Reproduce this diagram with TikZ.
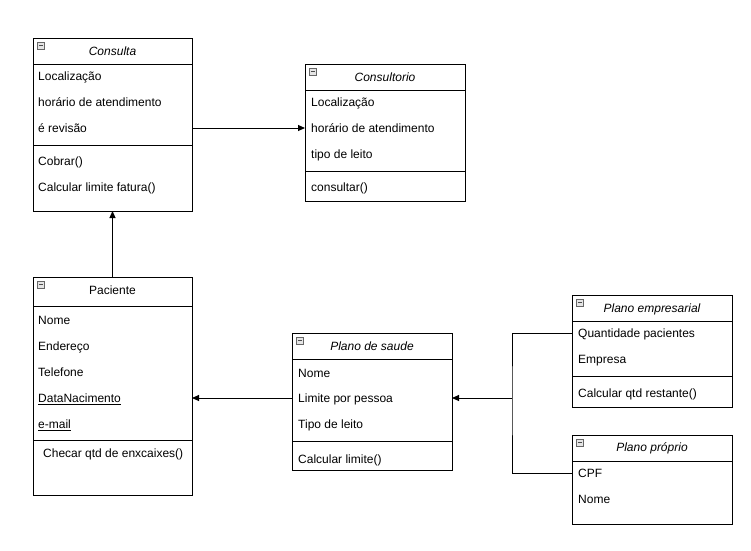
\documentclass[tikz,border=0pt]{standalone}
\usepackage{fontspec}
\setmainfont{Liberation Sans}
\usetikzlibrary{arrows.meta}
\begin{document}
\begin{tikzpicture}[x=1pt,y=-1pt,
  box/.style={draw, line width=1pt, anchor=north west, inner sep=0, outer sep=0},
  attr/.style={anchor=west, font=\fontsize{12}{14}\selectfont, inner sep=0,
    text height=12pt, text depth=3pt},
  title/.style={font=\fontsize{12}{14}\selectfont\itshape, inner sep=0,
    text height=12pt, text depth=3pt},
  plaintitle/.style={font=\fontsize{12}{14}\selectfont, inner sep=0,
    text height=12pt, text depth=3pt},
  sep/.style={line width=1pt},
  conn/.style={line width=1pt},
  arr/.style={conn, -{Triangle[length=7pt,width=6pt]}},
  toggle/.style={draw=gray!80!black, fill=gray!20, line width=0.6pt,
    minimum size=7pt, inner sep=0, anchor=north west,
    path picture={\draw[line width=0.7pt, black!70]
      ([xshift=1.6pt]path picture bounding box.west) --
      ([xshift=-1.6pt]path picture bounding box.east);}}
]
% canvas
\path[fill=white] (0,0) rectangle (751,550);

% ---- Consulta ----
\node[box, minimum width=159pt, minimum height=173pt] (consulta) at (33,38) {};
\node[toggle] (consultaT) at (37,42) {};
\node[title] (consultaN) at (112.5,51) {Consulta};
\draw[sep] (33,64) -- (192,64);
\node[attr] (c1) at (38,76) {Localização};
\node[attr] (c2) at (38,102) {horário de atendimento};
\node[attr] (c3) at (38,128) {é revisão};
\draw[sep] (33,145) -- (192,145);
\node[attr] (c4) at (38,161) {Cobrar()};
\node[attr] (c5) at (38,187) {Calcular limite fatura()};

% ---- Consultorio ----
\node[box, minimum width=160pt, minimum height=137pt] (consultorio) at (305,64) {};
\node[toggle] (consultorioT) at (309,68) {};
\node[title] (consultorioN) at (385,77) {Consultorio};
\draw[sep] (305,90) -- (465,90);
\node[attr] (o1) at (311,102) {Localização};
\node[attr] (o2) at (311,128) {horário de atendimento};
\node[attr] (o3) at (311,154) {tipo de leito};
\draw[sep] (305,171) -- (465,171);
\node[attr] (o4) at (311,187) {consultar()};

% ---- Paciente ----
\node[box, minimum width=159pt, minimum height=218pt] (paciente) at (33,277) {};
\node[toggle] (pacienteT) at (37,281) {};
\node[plaintitle] (pacienteN) at (112.5,290) {Paciente};
\draw[sep] (33,306) -- (192,306);
\node[attr] (p1) at (38,320) {Nome};
\node[attr] (p2) at (38,346) {Endereço};
\node[attr] (p3) at (38,372) {Telefone};
\node[attr] (p4) at (38,398) {\underline{DataNacimento}};
\node[attr] (p5) at (38,424) {\underline{e-mail}};
\draw[sep] (33,440) -- (192,440);
\node[attr] (p6) at (43,453) {Checar qtd de enxcaixes()};

% ---- Plano de saude ----
\node[box, minimum width=160pt, minimum height=137pt] (plano) at (292,333) {};
\node[toggle] (planoT) at (296,337) {};
\node[title] (planoN) at (372,346) {Plano de saude};
\draw[sep] (292,359) -- (452,359);
\node[attr] (s1) at (298,373) {Nome};
\node[attr] (s2) at (298,398) {Limite por pessoa};
\node[attr] (s3) at (298,424) {Tipo de leito};
\draw[sep] (292,441) -- (452,441);
\node[attr] (s4) at (298,459) {Calcular limite()};

% ---- Plano empresarial ----
\node[box, minimum width=160pt, minimum height=112pt] (emp) at (572,295) {};
\node[toggle] (empT) at (576,299) {};
\node[title] (empN) at (652,308) {Plano empresarial};
\draw[sep] (572,321) -- (732,321);
\node[attr] (e1) at (578,333) {Quantidade pacientes};
\node[attr] (e2) at (578,359) {Empresa};
\draw[sep] (572,376) -- (732,376);
\node[attr] (e3) at (578,393) {Calcular qtd restante()};

% ---- Plano proprio ----
\node[box, minimum width=160pt, minimum height=89pt] (prop) at (572,435) {};
\node[toggle] (propT) at (576,439) {};
\node[title] (propN) at (652,447) {Plano próprio};
\draw[sep] (572,461) -- (732,461);
\node[attr] (r1) at (578,473) {CPF};
\node[attr] (r2) at (578,499) {Nome};

% ---- connectors ----
\draw[arr] (consulta.east |- c3) -- (consultorio.west |- c3);
\draw[arr] (paciente.north) -- (consulta.south);
\draw[arr] (plano.west |- s2) -- (paciente.east |- s2);
\coordinate (bus) at (512,398);
\draw[conn] (emp.west |- e1) -| (bus) |- (prop.west |- r1);
\draw[arr] (bus) -- (plano.east |- bus);
\end{tikzpicture}
\end{document}
